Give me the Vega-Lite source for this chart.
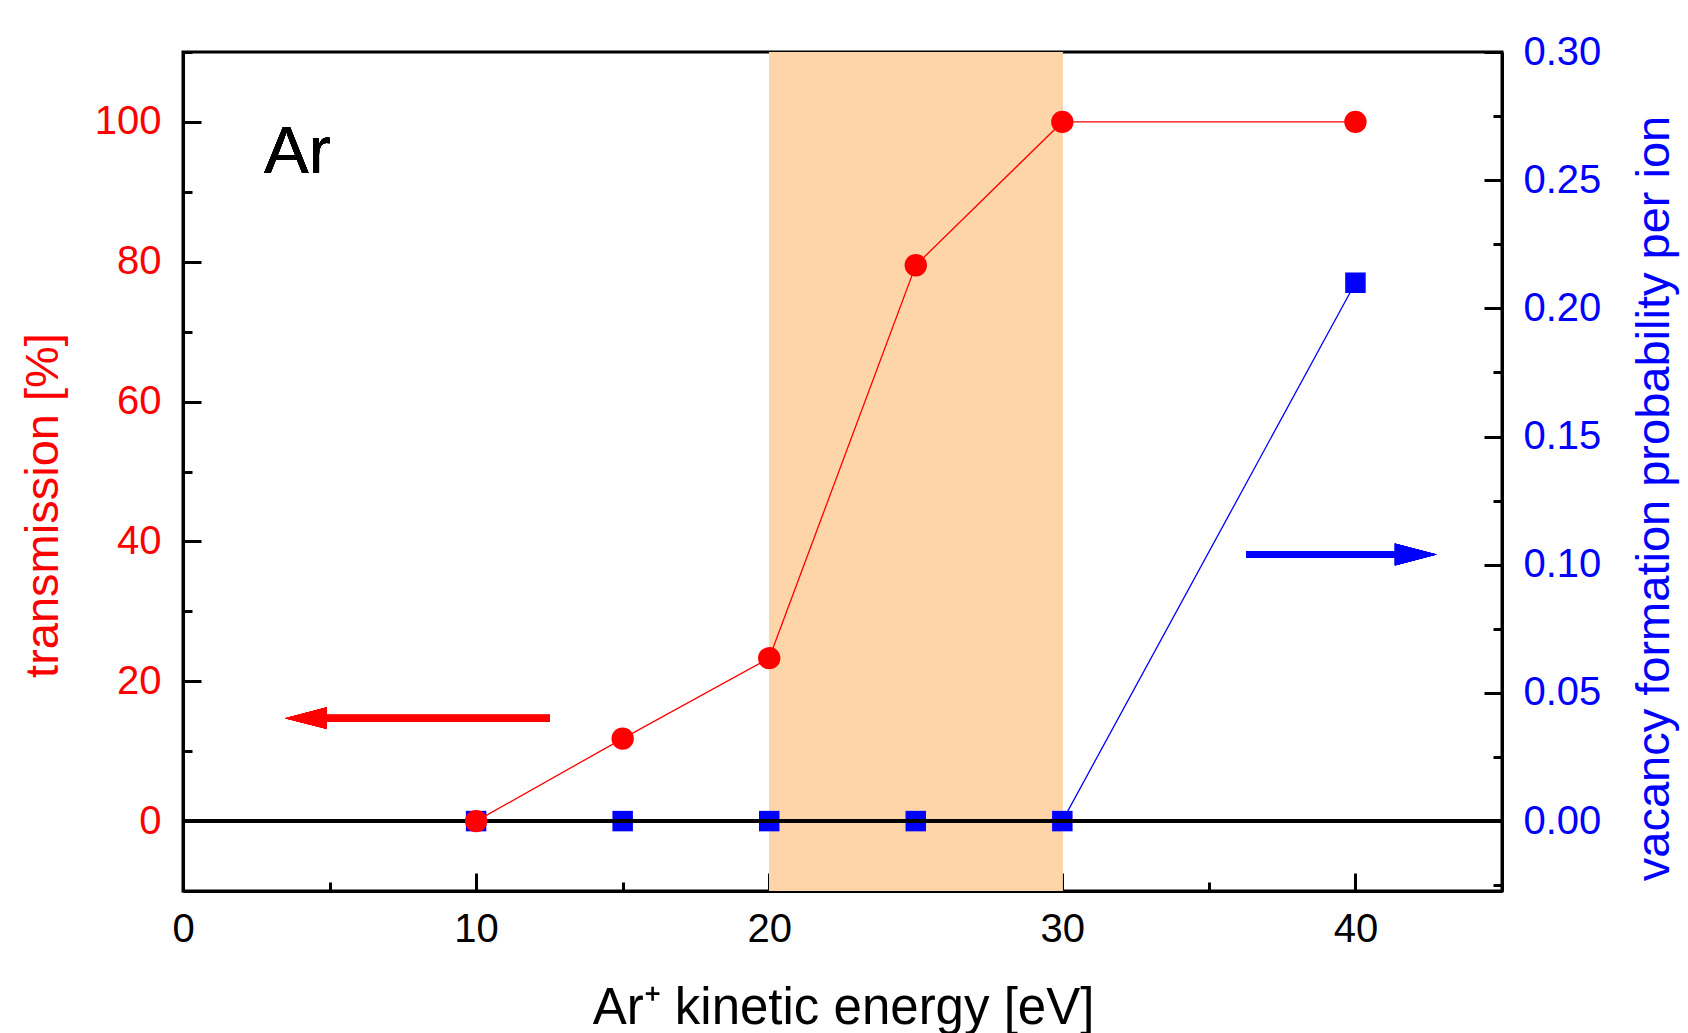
{
  "$schema": "https://vega.github.io/schema/vega-lite/v6.json",
  "width": 1319,
  "height": 839,
  "autosize": "none",
  "padding": {"left": 183, "top": 52, "right": 186, "bottom": 142},
  "background": "white",
  "config": {
    "font": "Liberation Sans",
    "view": {"stroke": "black", "strokeWidth": 3},
    "axis": {
      "grid": false,
      "domainColor": "black",
      "domainWidth": 3,
      "tickColor": "black",
      "tickWidth": 3,
      "labelFont": "Liberation Sans",
      "labelFontSize": 40,
      "titleFont": "Liberation Sans",
      "titleFontWeight": "normal",
      "titleFontSize": 47,
      "labelFlush": false,
      "labelBound": false,
      "labelOverlap": false
    }
  },
  "datasets": {
    "trans": [
      {"E": 10, "T": 0},
      {"E": 15, "T": 11.8},
      {"E": 20, "T": 23.3},
      {"E": 25, "T": 79.5},
      {"E": 30, "T": 100},
      {"E": 40, "T": 100}
    ],
    "vac": [
      {"E": 10, "V": 0},
      {"E": 15, "V": 0},
      {"E": 20, "V": 0},
      {"E": 25, "V": 0},
      {"E": 30, "V": 0},
      {"E": 40, "V": 0.21}
    ]
  },
  "resolve": {"scale": {"y": "independent"}},
  "layer": [
    {
      "data": {"name": "vac"},
      "layer": [
        {
          "mark": {"type": "rect", "color": "#FDD5A9"},
          "encoding": {
            "x": {"datum": 20, "type": "quantitative", "scale": {"domain": [0, 45], "nice": false, "zero": false}},
            "x2": {"datum": 30}
          }
        },
        {
          "mark": {"type": "line", "color": "#0000FF", "strokeWidth": 1.3},
          "encoding": {
            "x": {"field": "E", "type": "quantitative", "scale": {"domain": [0, 45], "nice": false, "zero": false}},
            "y": {"field": "V", "type": "quantitative", "scale": {"domain": [-0.02727, 0.3], "nice": false, "zero": false}}
          }
        },
        {
          "mark": {"type": "square", "color": "#0000FF", "size": 420, "opacity": 1, "filled": true},
          "encoding": {
            "x": {
              "field": "E", "type": "quantitative",
              "scale": {"domain": [0, 45], "nice": false, "zero": false},
              "axis": {
                "orient": "bottom",
                "values": [0, 5, 10, 15, 20, 25, 30, 35, 40, 45],
                "tickSize": {"condition": {"test": "datum.value % 10 === 0", "value": -18}, "value": -9},
                "labelExpr": "datum.value % 10 === 0 ? datum.label : ''",
                "labelColor": "black",
                "labelPadding": 36,
                "title": "Ar⁺ kinetic energy [eV]",
                "titleColor": "black",
                "titleFontSize": 51,
                "titleAlign": "center",
                "titleBaseline": "alphabetic",
                "titleX": 660,
                "titleY": 132
              }
            },
            "y": {
              "field": "V", "type": "quantitative",
              "scale": {"domain": [-0.02727, 0.3], "nice": false, "zero": false},
              "axis": {
                "orient": "right",
                "values": [-0.025, 0, 0.025, 0.05, 0.075, 0.1, 0.125, 0.15, 0.175, 0.2, 0.225, 0.25, 0.275, 0.3],
                "tickSize": {"condition": {"test": "abs(round(datum.value*40)) % 2 === 0", "value": -18}, "value": -9},
                "labelExpr": "abs(round(datum.value*40)) % 2 === 0 ? format(datum.value, '.2f') : ''",
                "labelColor": "#0000FF",
                "labelPadding": 39,
                "title": "vacancy formation probability per ion",
                "titleColor": "#0000FF",
                "titleAngle": 270,
                "titleAlign": "center",
                "titleBaseline": "alphabetic",
                "titleX": 166,
                "titleY": 446
              }
            }
          }
        },
        {
          "mark": {"type": "rule", "color": "#0000FF", "strokeWidth": 7},
          "encoding": {
            "x": {"datum": 36.27, "type": "quantitative", "scale": {"domain": [0, 45], "nice": false, "zero": false}},
            "x2": {"datum": 41.6},
            "y": {"datum": 0.104, "type": "quantitative", "scale": {"domain": [-0.02727, 0.3], "nice": false, "zero": false}}
          }
        },
        {
          "mark": {"type": "point", "shape": "M1,0L-1,-0.52L-1,0.52Z", "size": 1764, "filled": true, "opacity": 1, "color": "#0000FF", "strokeWidth": 0},
          "encoding": {
            "x": {"datum": 42.06, "type": "quantitative", "scale": {"domain": [0, 45], "nice": false, "zero": false}},
            "y": {"datum": 0.104, "type": "quantitative", "scale": {"domain": [-0.02727, 0.3], "nice": false, "zero": false}}
          }
        }
      ]
    },
    {
      "data": {"name": "trans"},
      "layer": [
        {
          "mark": {"type": "rule", "color": "black", "strokeWidth": 3},
          "encoding": {
            "y": {"datum": 0, "type": "quantitative", "scale": {"domain": [-10, 110], "nice": false, "zero": false}}
          }
        },
        {
          "mark": {"type": "line", "color": "#FF0000", "strokeWidth": 1.3},
          "encoding": {
            "x": {"field": "E", "type": "quantitative", "scale": {"domain": [0, 45], "nice": false, "zero": false}},
            "y": {"field": "T", "type": "quantitative", "scale": {"domain": [-10, 110], "nice": false, "zero": false}}
          }
        },
        {
          "mark": {"type": "circle", "color": "#FF0000", "size": 500, "opacity": 1},
          "encoding": {
            "x": {"field": "E", "type": "quantitative", "scale": {"domain": [0, 45], "nice": false, "zero": false}},
            "y": {
              "field": "T", "type": "quantitative",
              "scale": {"domain": [-10, 110], "nice": false, "zero": false},
              "axis": {
                "orient": "left",
                "values": [-10, 0, 10, 20, 30, 40, 50, 60, 70, 80, 90, 100, 110],
                "tickSize": {"condition": {"test": "datum.value % 20 === 0", "value": -18}, "value": -9},
                "labelExpr": "datum.value % 20 === 0 ? datum.label : ''",
                "labelColor": "#FF0000",
                "labelPadding": 40,
                "title": "transmission [%]",
                "titleColor": "#FF0000",
                "titleAngle": 270,
                "titleAlign": "center",
                "titleBaseline": "alphabetic",
                "titleX": -126,
                "titleY": 453
              }
            }
          }
        },
        {
          "mark": {"type": "rule", "color": "#FF0000", "strokeWidth": 7},
          "encoding": {
            "x": {"datum": 4.9, "type": "quantitative", "scale": {"domain": [0, 45], "nice": false, "zero": false}},
            "x2": {"datum": 12.52},
            "y": {"datum": 14.72, "type": "quantitative", "scale": {"domain": [-10, 110], "nice": false, "zero": false}}
          }
        },
        {
          "mark": {"type": "point", "shape": "M-1,0L1,-0.52L1,0.52Z", "size": 1764, "filled": true, "opacity": 1, "color": "#FF0000", "strokeWidth": 0},
          "encoding": {
            "x": {"datum": 4.19, "type": "quantitative", "scale": {"domain": [0, 45], "nice": false, "zero": false}},
            "y": {"datum": 14.72, "type": "quantitative", "scale": {"domain": [-10, 110], "nice": false, "zero": false}}
          }
        },
        {
          "mark": {"type": "text", "text": "Ar", "fontSize": 67, "font": "Liberation Sans", "align": "left", "baseline": "alphabetic", "color": "black"},
          "encoding": {
            "x": {"datum": 2.76, "type": "quantitative", "scale": {"domain": [0, 45], "nice": false, "zero": false}},
            "y": {"datum": 92.7, "type": "quantitative", "scale": {"domain": [-10, 110], "nice": false, "zero": false}}
          }
        }
      ]
    }
  ]
}
